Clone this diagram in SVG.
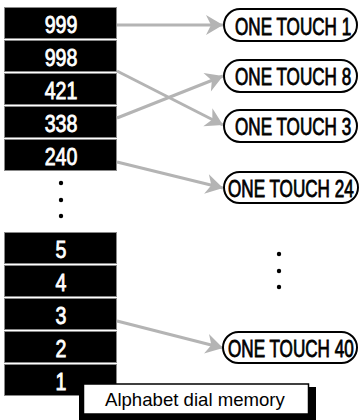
<svg xmlns="http://www.w3.org/2000/svg" width="360" height="420" viewBox="0 0 360 420">
<defs>
<style>
.blk{fill:#000;stroke:#888;stroke-width:1}
.num{font-family:"Liberation Sans",Arial,sans-serif;font-size:19.6px;fill:#fff;stroke:#fff;stroke-width:0.7;text-anchor:middle}
.pill{fill:#fff;stroke:#000;stroke-width:2}
.pt{font-family:"Liberation Sans",Arial,sans-serif;font-size:17.1px;fill:#000;stroke:#000;stroke-width:0.6}
.dot{fill:#000}
.arr{stroke:#b4b4b4;stroke-width:3;fill:none;marker-end:url(#ah)}
.lbl{font-family:"Liberation Sans",Arial,sans-serif;font-size:18.6px;fill:#000}
</style>
<marker id="ah" markerUnits="userSpaceOnUse" markerWidth="22" markerHeight="22" viewBox="-19 -11 22 22" refX="0" refY="0" orient="auto">
<path d="M0,0 L-17,-10 L-12,0 L-17,10 Z" fill="#b4b4b4"/>
</marker>
</defs>
<g id="memories">
<g id="m999"><rect class="blk" x="4.5" y="7.5" width="112" height="31"/><text class="num" transform="translate(61,33) scale(1,1.2)">999</text></g>
<g id="m998"><rect class="blk" x="4.5" y="40.5" width="112" height="31"/><text class="num" transform="translate(61,66) scale(1,1.2)">998</text></g>
<g id="m421"><rect class="blk" x="4.5" y="73.5" width="112" height="31"/><text class="num" transform="translate(61,99) scale(1,1.2)">421</text></g>
<g id="m338"><rect class="blk" x="4.5" y="106.5" width="112" height="31"/><text class="num" transform="translate(61,132) scale(1,1.2)">338</text></g>
<g id="m240"><rect class="blk" x="4.5" y="139.5" width="112" height="31"/><text class="num" transform="translate(61,165) scale(1,1.2)">240</text></g>
<g id="m5"><rect class="blk" x="4.5" y="232.5" width="112" height="31"/><text class="num" transform="translate(61,258) scale(1,1.2)">5</text></g>
<g id="m4"><rect class="blk" x="4.5" y="265.5" width="112" height="31"/><text class="num" transform="translate(61,291) scale(1,1.2)">4</text></g>
<g id="m3"><rect class="blk" x="4.5" y="298.5" width="112" height="31"/><text class="num" transform="translate(61,324) scale(1,1.2)">3</text></g>
<g id="m2"><rect class="blk" x="4.5" y="331.5" width="112" height="31"/><text class="num" transform="translate(61,357) scale(1,1.2)">2</text></g>
<g id="m1"><rect class="blk" x="4.5" y="364.5" width="112" height="31"/><text class="num" transform="translate(61,390) scale(1,1.2)">1</text></g>
</g>
<g id="dots">
<circle class="dot" cx="61" cy="183" r="2.2"/>
<circle class="dot" cx="61" cy="200" r="2.2"/>
<circle class="dot" cx="61" cy="216" r="2.2"/>
<circle class="dot" cx="279" cy="254" r="2.2"/>
<circle class="dot" cx="279" cy="271" r="2.2"/>
<circle class="dot" cx="279" cy="287" r="2.2"/>
</g>
<g id="connectors">
<line class="arr" x1="117" y1="25" x2="223" y2="25"/>
<line class="arr" x1="117" y1="71" x2="223" y2="125"/>
<line class="arr" x1="117" y1="118" x2="223" y2="76"/>
<line class="arr" x1="117" y1="162" x2="223" y2="188"/>
<line class="arr" x1="117" y1="321" x2="223" y2="348"/>
</g>
<g id="ot1"><rect class="pill" x="224" y="9" width="133" height="32" rx="16"/><text class="pt" transform="translate(235,35) scale(1,1.36)">ONE TOUCH 1</text></g>
<g id="ot8"><rect class="pill" x="224" y="60" width="133" height="32" rx="16"/><text class="pt" transform="translate(235,85) scale(1,1.36)">ONE TOUCH 8</text></g>
<g id="ot3"><rect class="pill" x="224" y="110" width="133" height="32" rx="16"/><text class="pt" transform="translate(235,135) scale(1,1.36)">ONE TOUCH 3</text></g>
<g id="ot24"><rect class="pill" x="224" y="172" width="134" height="31" rx="15.5"/><text class="pt" transform="translate(228,197) scale(1,1.36)">ONE TOUCH 24</text></g>
<g id="ot40"><rect class="pill" x="223" y="332" width="134" height="31" rx="15.5"/><text class="pt" transform="translate(228,357) scale(1,1.36)">ONE TOUCH 40</text></g>
<g id="label">
<rect x="79" y="387" width="237" height="33" fill="#000"/>
<rect x="83.5" y="384" width="225" height="30" fill="#fff" stroke="#000" stroke-width="1.5"/>
<text class="lbl" x="105" y="406">Alphabet dial memory</text>
</g>
</svg>
